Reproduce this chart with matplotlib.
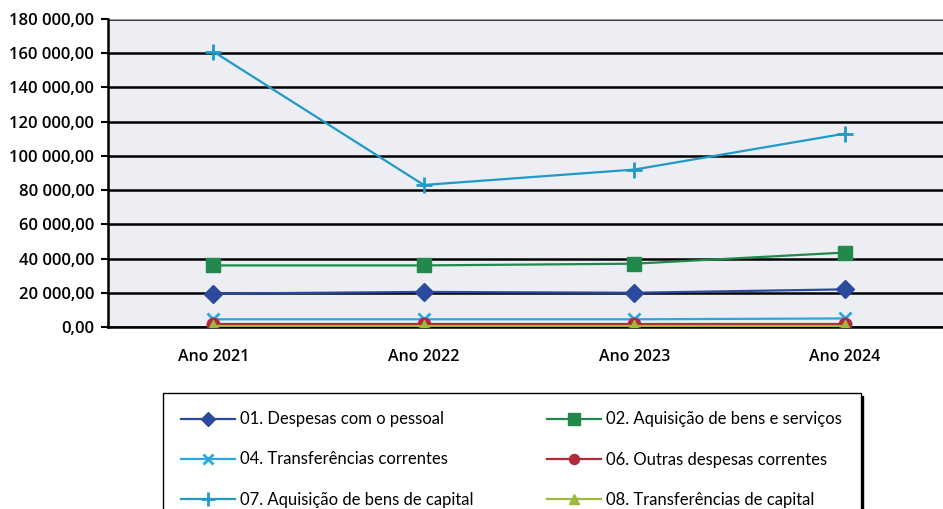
import numpy as np
import matplotlib.pyplot as plt
from matplotlib.ticker import FuncFormatter

# values
years = ['Ano 2021', 'Ano 2022', 'Ano 2023', 'Ano 2024']
pessoal = [19500, 20500, 20000, 22000]
bens_servicos = [36000, 36000, 37000, 43500]
transf_correntes = [4500, 4500, 4500, 5000]
outras_correntes = [2000, 2000, 2000, 2000]
bens_capital = [161000, 83000, 92000, 113000]
transf_capital = [500, 500, 500, 500]

series = [
    ('01. Despesas com o pessoal', pessoal, '#2b4a9e', 'D', 9),
    ('02. Aquisição de bens e serviços', bens_servicos, '#21894c', 's', 10),
    ('04. Transferências correntes', transf_correntes, '#2aa6e0', 'x', 9),
    ('06. Outras despesas correntes', outras_correntes, '#b02a3a', 'o', 9),
    ('07. Aquisição de bens de capital', bens_capital, '#2199c6', '+', 12),
    ('08. Transferências de capital', transf_capital, '#9cbb3a', '^', 9),
]

def fmt(v, pos):
    s = f"{v:,.2f}"
    return s.replace(',', ' ').replace('.', ',')

fig = plt.figure(figsize=(9.43, 5.09), dpi=100)
ax = fig.add_axes([108/943, 1-327/509, 842/943, 308/509])
ax.set_facecolor('#eceef4')

x = np.arange(len(years))
order = [4, 1, 0, 2, 3, 5]
handles = {}
for i in order:
    label, vals, col, mk, ms = series[i]
    h, = ax.plot(x, vals, color=col, lw=1.6, marker=mk, markersize=ms,
                 markeredgewidth=2 if mk in 'x+' else 1, label=label, zorder=3)
    handles[i] = h

ax.set_xlim(-0.5, 3.5)
ax.set_ylim(0, 180000)
ax.set_yticks(np.arange(0, 180001, 20000))
ax.yaxis.set_major_formatter(FuncFormatter(fmt))
ax.set_xticks(x)
ax.set_xticklabels(years)
ax.grid(axis='y', color='black', lw=1.8, zorder=1)
ax.set_axisbelow(True)
for s in ['top', 'right']:
    ax.spines[s].set_visible(False)
ax.spines['left'].set_linewidth(1.8)
ax.spines['bottom'].set_linewidth(1.8)
ax.axhline(180000, color='#9a9a9a', lw=1.5, zorder=2)
ax.tick_params(axis='y', length=5, width=1.5, labelsize=12, pad=5)
ax.tick_params(axis='x', length=0, labelsize=11.5, pad=16)
for t in ax.get_yticklabels() + ax.get_xticklabels():
    t.set_fontfamily('Open Sans')
    t.set_fontweight('semibold')

# legend is filled column by column, so put row pairs in that order
leg_order = [0, 2, 4, 1, 3, 5]
hs = [handles[i] for i in leg_order]
leg = fig.legend(hs, [series[i][0] for i in leg_order], loc='upper left',
                 bbox_to_anchor=(163/943, 1-393/509), ncol=2,
                 borderaxespad=0, frameon=True, fancybox=False,
                 edgecolor='black', shadow={'color': 'black', 'alpha': 1},
                 handlelength=3.2, columnspacing=4.4, labelspacing=1.45,
                 borderpad=1.1, handletextpad=0.35,
                 prop={'family': 'Lato', 'size': 12},
                 markerscale=0.8)
leg.get_frame().set_linewidth(1.0)

fig.savefig('out.png', dpi=100)
